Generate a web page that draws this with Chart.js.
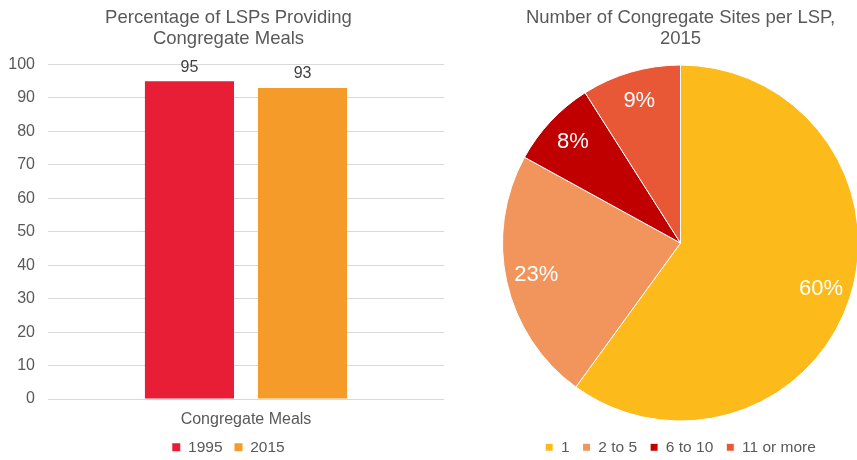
<!DOCTYPE html>
<html>
<head>
<meta charset="utf-8">
<script src="https://cdn.jsdelivr.net/npm/chart.js@4.4.1/dist/chart.umd.min.js"></script>
<style>
    html, body { margin: 0; padding: 0; background: #fff; overflow: hidden; }
    body { width: 857px; height: 460px; position: relative; }
    .box { position: absolute; top: 0; height: 465px; }
    #bar_box { left: 0; width: 457px; }
    #pie_box { left: 502px; width: 357px; }
</style>
</head>
<body>
<div class="box" id="bar_box"><canvas id="chart_bar"></canvas></div>
<div class="box" id="pie_box"><canvas id="chart_pie"></canvas></div>

<script>
// bar chart data
let barCategories = ["Congregate Meals"];
let barYears = ["1995", "2015"];
let barValues1995 = [95];
let barValues2015 = [93];
let barTicks = [0, 10, 20, 30, 40, 50, 60, 70, 80, 90, 100];

// pie chart data
let pieLabels = ["1", "2 to 5", "6 to 10", "11 or more"];
let pieValues = [60, 23, 8, 9];

let textGray = "#595959";
let fontFamily = "'Liberation Sans', Arial, sans-serif";

Chart.defaults.font.family = fontFamily;
Chart.defaults.color = textGray;

// draws value labels over the bars / inside the slices
let valueLabels = {
    id: "valueLabels",
    afterDatasetsDraw(chart) {
        let ctx = chart.ctx;
        ctx.save();
        ctx.textAlign = "center";
        ctx.textBaseline = "middle";
        chart.data.datasets.forEach((ds, di) => {
            let meta = chart.getDatasetMeta(di);
            meta.data.forEach((el, i) => {
                if (chart.config.type === "bar") {
                    ctx.font = "16px " + fontFamily;
                    ctx.fillStyle = "#404040";
                    ctx.fillText(ds.data[i], el.x, el.y - 14);
                } else {
                    let mid = (el.startAngle + el.endAngle) / 2;
                    let r = el.outerRadius * 0.83;
                    ctx.font = "22px " + fontFamily;
                    ctx.fillStyle = "#ffffff";
                    ctx.fillText(ds.data[i] + "%", el.x + Math.cos(mid) * r, el.y + Math.sin(mid) * r);
                }
            });
        });
        ctx.restore();
    }
};

function renderBarChart() {
    let ctx = document.getElementById("chart_bar").getContext("2d");
    new Chart(ctx, {
        type: "bar",
        data: {
            labels: barCategories,
            datasets: [
                { label: barYears[0], data: barValues1995, backgroundColor: "#E81D36" },
                { label: barYears[1], data: barValues2015, backgroundColor: "#F59B2A" }
            ]
        },
        options: {
            responsive: true,
            maintainAspectRatio: false,
            animation: false,
            categoryPercentage: 0.571,
            barPercentage: 0.788,
            layout: { padding: 0 },
            plugins: {
                title: {
                    display: true,
                    text: ["Percentage of LSPs Providing", "Congregate Meals"],
                    color: textGray,
                    font: { size: 18.5, weight: "normal", lineHeight: 1.15 },
                    padding: { top: 7, bottom: 15 }
                },
                legend: {
                    position: "bottom",
                    labels: { boxWidth: 8, boxHeight: 8, padding: 12, color: textGray, font: { size: 15.5 } }
                },
                tooltip: { enabled: false }
            },
            scales: {
                y: {
                    min: 0,
                    max: 100,
                    afterFit: s => { s.width = 48; },
                    afterBuildTicks: s => { s.ticks = barTicks.map(v => ({ value: v })); },
                    border: { display: false },
                    grid: { color: "#D9D9D9", drawTicks: false },
                    ticks: { padding: 13, color: textGray, font: { size: 16 } }
                },
                // empty strip on the right so the gridlines stop short of the edge
                yRight: {
                    position: "right",
                    afterFit: s => { s.width = 13; },
                    border: { display: false },
                    grid: { display: false, drawTicks: false },
                    ticks: { display: false }
                },
                x: {
                    afterFit: s => { s.height = 28.5; },
                    border: { display: false },
                    grid: { display: false, drawTicks: false },
                    ticks: { padding: 11, color: textGray, font: { size: 16 } }
                }
            }
        },
        plugins: [valueLabels]
    });
}

function renderPieChart() {
    let ctx = document.getElementById("chart_pie").getContext("2d");
    new Chart(ctx, {
        type: "pie",
        data: {
            labels: pieLabels,
            datasets: [{
                data: pieValues,
                backgroundColor: ["#FDBB1B", "#F2955C", "#C00000", "#E95836"],
                borderColor: "#ffffff",
                borderWidth: 1
            }]
        },
        options: {
            responsive: true,
            maintainAspectRatio: false,
            animation: false,
            layout: { padding: 0 },
            plugins: {
                title: {
                    display: true,
                    text: ["Number of Congregate Sites per LSP,", "2015"],
                    color: textGray,
                    font: { size: 18.5, weight: "normal", lineHeight: 1.15 },
                    padding: { top: 7, bottom: 10 }
                },
                legend: {
                    position: "bottom",
                    labels: { boxWidth: 8, boxHeight: 8, padding: 13, color: textGray, font: { size: 15.5 } }
                },
                tooltip: { enabled: false }
            }
        },
        plugins: [valueLabels]
    });
}

renderBarChart();
renderPieChart();
</script>
</body>
</html>
